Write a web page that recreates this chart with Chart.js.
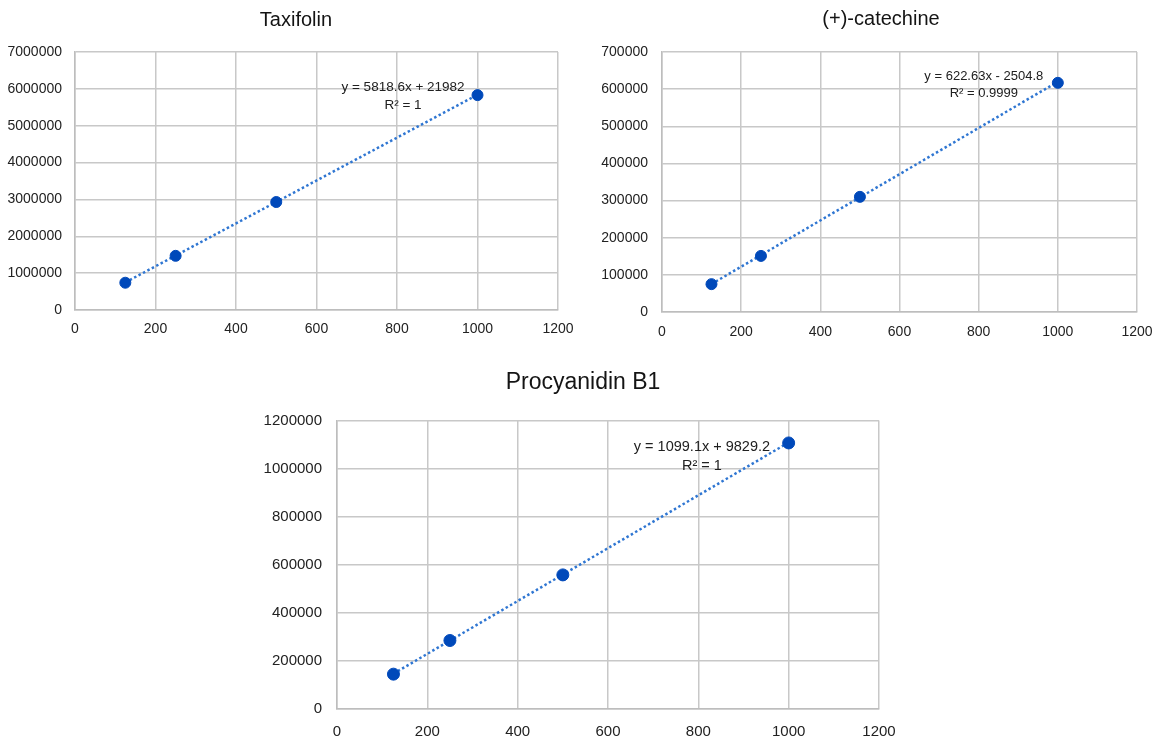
<!DOCTYPE html>
<html>
<head>
<meta charset="utf-8">
<script src="https://cdn.jsdelivr.net/npm/chart.js@4/dist/chart.umd.min.js"></script>
<style>
  html, body { margin: 0; padding: 0; background: #fff; overflow: hidden; }
  body { width: 1158px; height: 740px; position: relative; }
  .box { position: absolute; }
</style>
</head>
<body>
<div class="box" style="left:0px;top:0px"><canvas id="c1" width="592" height="340"></canvas></div>
<div class="box" style="left:580px;top:0px"><canvas id="c2" width="602" height="342"></canvas></div>
<div class="box" style="left:250px;top:340px"><canvas id="c3" width="666" height="399"></canvas></div>
<script>
// concentrations (x) shared by the three calibration curves
const conc = [125, 250, 500, 1000];
const trendX = [125, 1000];

// peak areas
const taxifolin = [740000, 1470000, 2930000, 5830000];
const catechine = [75000, 151000, 310000, 617000];
const procyanidin = [145000, 285000, 558000, 1107000];

// trendline ends (at x = 125 and x = 1000)
const taxifolinTrend = [749000, 5840000];
const catechineTrend = [75300, 620000];
const procyanidinTrend = [147000, 1109000];

const xTicks = [0, 200, 400, 600, 800, 1000, 1200];
const taxTicks = [0, 1000000, 2000000, 3000000, 4000000, 5000000, 6000000, 7000000];
const catTicks = [0, 100000, 200000, 300000, 400000, 500000, 600000, 700000];
const proTicks = [0, 200000, 400000, 600000, 800000, 1000000, 1200000];

const titles = ['Taxifolin', '(+)-catechine', 'Procyanidin B1'];
const equations = [
  ['y = 5818.6x + 21982', 'R\u00b2 = 1'],
  ['y = 622.63x - 2504.8', 'R\u00b2 = 0.9999'],
  ['y = 1099.1x + 9829.2', 'R\u00b2 = 1']
];

const FONT = "'Liberation Sans', Arial, sans-serif";

function pts(xs, ys) {
  return xs.map((x, i) => ({ x: x, y: ys[i] }));
}

// draws the trendline equation like Excel does
function eqPlugin(lines, at) {
  return {
    id: 'eq',
    afterDatasetsDraw(chart) {
      const { ctx, scales } = chart;
      const px = scales.x.getPixelForValue(at.x);
      const py = scales.y.getPixelForValue(at.y);
      ctx.save();
      ctx.font = at.size + 'px ' + FONT;
      ctx.fillStyle = '#202020';
      ctx.textAlign = 'center';
      ctx.textBaseline = 'middle';
      lines.forEach((t, i) => ctx.fillText(t, px, py + i * at.gap));
      ctx.restore();
    }
  };
}

function makeChart(id, o) {
  const ctx = document.getElementById(id).getContext('2d');
  return new Chart(ctx, {
    type: 'scatter',
    data: {
      datasets: [{
        data: pts(conc, o.values),
        backgroundColor: '#0049BA',
        borderColor: '#0049BA',
        pointRadius: o.r,
        pointHoverRadius: o.r
      }, {
        data: pts(trendX, o.trend),
        showLine: true,
        pointRadius: 0,
        borderColor: '#2F76D2',
        borderWidth: 2.5,
        borderDash: [2.5, 2.5],
        borderCapStyle: 'butt',
        fill: false
      }]
    },
    options: {
      responsive: false,
      animation: false,
      layout: { padding: 0 },
      plugins: {
        legend: { display: false },
        tooltip: { enabled: false },
        title: {
          display: true,
          text: o.title,
          color: '#141414',
          font: { family: FONT, size: o.titleSize, weight: 'normal' },
          padding: { top: o.titleTop, bottom: o.titleBottom }
        }
      },
      scales: {
        x: {
          type: 'linear',
          min: 0, max: 1200,
          afterBuildTicks: s => { s.ticks = xTicks.map(v => ({ value: v })); },
          afterFit: s => { s.height = 30; },
          grid: { color: '#c8c8c8', lineWidth: 1.5, drawTicks: false },
          border: { color: '#bdbdbd', width: 1.5 },
          ticks: {
            padding: o.xPad,
            color: '#222222',
            font: { family: FONT, size: o.tickSize },
            callback: v => String(v)
          }
        },
        y: {
          type: 'linear',
          min: 0, max: o.yMax,
          afterBuildTicks: s => { s.ticks = o.yTicks.map(v => ({ value: v })); },
          afterFit: s => { s.width = o.yWidth; },
          grid: { color: '#c8c8c8', lineWidth: 1.5, drawTicks: false },
          border: { color: '#bdbdbd', width: 1.5 },
          ticks: {
            padding: o.yPad,
            color: '#222222',
            font: { family: FONT, size: o.tickSize },
            callback: v => String(v)
          }
        },
        // empty right-hand margin so the title sits where Excel puts it
        pad: {
          type: 'linear',
          position: 'right',
          grid: { display: false },
          border: { display: false },
          ticks: { display: false },
          afterFit: s => { s.width = o.rightGap; }
        }
      }
    },
    plugins: [eqPlugin(o.eq, o.eqAt)]
  });
}

makeChart('c1', {
  title: titles[0], values: taxifolin, trend: taxifolinTrend,
  yMax: 7000000, yTicks: taxTicks,
  yWidth: 75, rightGap: 34, yPad: 13, xPad: 11, tickSize: 14, r: 5.5,
  titleSize: 20, titleTop: 8, titleBottom: 20,
  eq: equations[0], eqAt: { x: 815, y: 6050000, gap: 18, size: 13.5 }
});

makeChart('c2', {
  title: titles[1], values: catechine, trend: catechineTrend,
  yMax: 700000, yTicks: catTicks,
  yWidth: 82, rightGap: 45, yPad: 14, xPad: 12, tickSize: 14, r: 5.5,
  titleSize: 20, titleTop: 7, titleBottom: 21,
  eq: equations[1], eqAt: { x: 813, y: 635000, gap: 17, size: 13 }
});

makeChart('c3', {
  title: titles[2], values: procyanidin, trend: procyanidinTrend,
  yMax: 1200000, yTicks: proTicks,
  yWidth: 87, rightGap: 37, yPad: 15, xPad: 14, tickSize: 15, r: 6,
  titleSize: 23, titleTop: 29, titleBottom: 24,
  eq: equations[2], eqAt: { x: 808, y: 1092000, gap: 19, size: 14.5 }
});
</script>
</body>
</html>
